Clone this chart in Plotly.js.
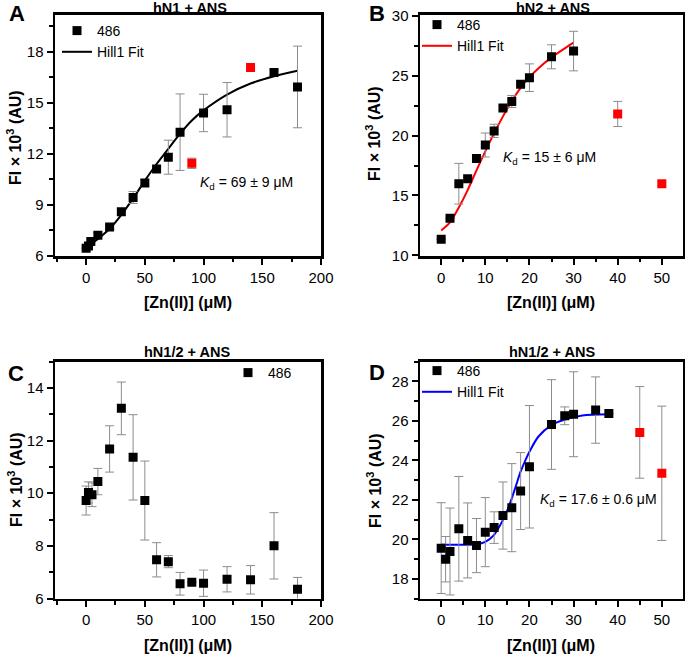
<!DOCTYPE html>
<html>
<head>
<meta charset="utf-8">
<script src="https://cdn.plot.ly/plotly-3.0.1.min.js"></script>
<style>html,body{margin:0;padding:0;background:#fff;}#plot{width:685px;height:655px;}</style>
</head>
<body>
<div id="plot"></div>
<script>
// ---------- Panel A: hN1 + ANS ----------
const A_x = [0, 2, 4, 10, 20, 30, 40, 50, 60, 70, 80, 100, 120, 160, 180];
const A_y = [6.45, 6.59, 6.85, 7.22, 7.71, 8.6, 9.44, 10.29, 11.12, 11.81, 13.28, 14.41, 14.6, 16.79, 15.94];
const A_err = [0, 0, 0.1, 0.15, 0.15, 0.2, 0.35, 0.2, 0.15, 1.0, 2.25, 1.1, 1.6, 0.15, 2.4];
const A_red_x = [90, 140];
const A_red_y = [11.45, 17.08];
const A_red_err = [0.3, 0];
const A_fit_x = [0, 10, 20, 30, 40, 50, 60, 70, 80, 90, 100, 120, 140, 160, 180];
const A_fit_y = [6.49, 7.0, 7.6, 8.42, 9.39, 10.43, 11.41, 12.3, 13.19, 13.97, 14.56, 15.49, 16.14, 16.57, 16.89];

// ---------- Panel B: hN2 + ANS ----------
const B_x = [0, 2, 4, 6, 8, 10, 12, 14, 16, 18, 20, 25, 30];
const B_y = [11.35, 13.09, 15.98, 16.4, 18.09, 19.21, 20.39, 22.3, 22.84, 24.27, 24.83, 26.57, 27.05];
const B_err = [0, 0, 1.7, 0.2, 0.2, 1.0, 0.55, 0.15, 0.5, 0.15, 1.15, 1.0, 1.65];
const B_red_x = [40, 50];
const B_red_y = [21.8, 15.98];
const B_red_err = [1.05, 0.15];
const B_fit_x = [0, 2, 4, 6, 8, 10, 12, 14, 16, 18, 20, 22, 25, 28, 30];
const B_fit_y = [12.08, 12.75, 14.0, 15.45, 17.1, 18.68, 20.2, 21.6, 22.88, 23.97, 24.87, 25.6, 26.52, 27.28, 27.75];

// ---------- Panel C: hN1/2 + ANS ----------
const C_x = [0, 2, 5, 10, 20, 30, 40, 50, 60, 70, 80, 90, 100, 120, 140, 160, 180];
const C_y = [9.72, 10.03, 9.94, 10.44, 11.68, 13.22, 11.36, 9.72, 7.47, 7.40, 6.56, 6.62, 6.58, 6.73, 6.71, 8.0, 6.35];
const C_err = [0.55, 0.4, 0.45, 0.5, 0.88, 1.0, 1.62, 1.5, 0.65, 0.23, 0.43, 0, 0.5, 0.48, 0.54, 1.26, 0.45];

// ---------- Panel D: hN1/2 + ANS ----------
const D_x = [0, 1, 2, 4, 6, 8, 10, 12, 14, 16, 18, 20, 25, 28, 30, 35, 38];
const D_y = [19.55, 18.99, 19.38, 20.53, 19.94, 19.68, 20.36, 20.59, 21.2, 21.6, 22.44, 23.67, 25.81, 26.25, 26.33, 26.54, 26.37];
const D_err = [2.3, 1.15, 2.2, 2.65, 1.9, 1.37, 1.75, 0.8, 1.7, 2.23, 1.95, 3.1, 2.27, 0.45, 2.15, 1.68, 0];
const D_red_x = [45, 50];
const D_red_y = [25.41, 23.34];
const D_red_err = [2.32, 3.4];
const D_fit_x = [0, 5, 8, 10, 12, 14, 15, 16, 17, 18, 19, 20, 22, 25, 28, 32, 38];
const D_fit_y = [19.72, 19.72, 19.75, 19.87, 20.22, 20.98, 21.48, 22.07, 22.75, 23.42, 23.96, 24.43, 25.19, 25.78, 26.06, 26.27, 26.33];

// ---------- Text ----------
const titles = ['hN1 + ANS', 'hN2 + ANS', 'hN1/2 + ANS', 'hN1/2 + ANS'];
const letters = ['A', 'B', 'C', 'D'];
const xTitle = '[Zn(II)] (μM)';
const yTitle = 'FI × 10<sup>3</sup> (AU)';
const kdTexts = ['<i>K</i><sub>d</sub> = 69 ± 9 μM', '<i>K</i><sub>d</sub> = 15 ± 6 μM', '<i>K</i><sub>d</sub> = 17.6 ± 0.6 μM'];
const seriesName = '486';
const fitName = 'Hill1 Fit';

// ---------- helpers ----------
const W = 685, H = 655;
const px = v => v / W;
const py = v => 1 - v / H;
const FONT = 'Liberation Sans, Arial, sans-serif';
const GRAY = '#8c8c8c';

function pts(x, y, err, xa, ya, color, name, legend, show) {
  return {
    type: 'scatter', mode: 'markers', x: x, y: y, xaxis: xa, yaxis: ya,
    name: name, legend: legend, showlegend: show,
    marker: {symbol: 'square', size: 9, color: color},
    error_y: {type: 'data', array: err, visible: true, color: GRAY, thickness: 1, width: 4.5}
  };
}
function fit(x, y, xa, ya, color, legend) {
  return {
    type: 'scatter', mode: 'lines', x: x, y: y, xaxis: xa, yaxis: ya,
    name: fitName, legend: legend, showlegend: true,
    line: {color: color, width: 2, shape: 'spline', smoothing: 0.8}
  };
}

const traces = [
  fit(A_fit_x, A_fit_y, 'x', 'y', '#000000', 'legend'),
  pts(A_x, A_y, A_err, 'x', 'y', '#000000', seriesName, 'legend', true),
  pts(A_red_x, A_red_y, A_red_err, 'x', 'y', '#ff0000', seriesName, 'legend', false),
  fit(B_fit_x, B_fit_y, 'x2', 'y2', '#ff0000', 'legend2'),
  pts(B_x, B_y, B_err, 'x2', 'y2', '#000000', seriesName, 'legend2', true),
  pts(B_red_x, B_red_y, B_red_err, 'x2', 'y2', '#ff0000', seriesName, 'legend2', false),
  pts(C_x, C_y, C_err, 'x3', 'y3', '#000000', seriesName, 'legend3', true),
  fit(D_fit_x, D_fit_y, 'x4', 'y4', '#0000ff', 'legend4'),
  pts(D_x, D_y, D_err, 'x4', 'y4', '#000000', seriesName, 'legend4', true),
  pts(D_red_x, D_red_y, D_red_err, 'x4', 'y4', '#ff0000', seriesName, 'legend4', false)
];

function ax(domain, range, dtick, minorDtick, anchor) {
  return {
    domain: domain, range: range, anchor: anchor, dtick: dtick,
    showline: true, linewidth: 2.5, linecolor: '#000', mirror: true,
    ticks: 'outside', ticklen: 6, tickwidth: 2, tickcolor: '#000',
    showgrid: false, zeroline: false, fixedrange: true,
    tickfont: {size: 15, family: FONT, color: '#000'},
    minor: {ticks: 'outside', ticklen: 3.5, tickwidth: 2, tickcolor: '#000', dtick: minorDtick, showgrid: false}
  };
}

const dAx = [px(55), px(321)], dBx = [px(420), px(683)];
const dTop = [py(256), py(14.5)], dBot = [py(598.5), py(361.5)];

function legendCfg(xp, yp) {
  return {x: px(xp), y: py(yp), xanchor: 'left', yanchor: 'top', bgcolor: 'rgba(0,0,0,0)',
          font: {size: 14, family: FONT, color: '#000'}, tracegroupgap: 0, traceorder: 'reversed', itemwidth: 30};
}

const ann = [];
function txt(t, x, y, opts) {
  ann.push(Object.assign({text: t, x: px(x), y: py(y), xref: 'paper', yref: 'paper', showarrow: false,
    xanchor: 'center', yanchor: 'middle', font: {size: 14, family: FONT, color: '#000'}}, opts || {}));
}
const titleFont = {size: 14.5, family: FONT, color: '#000'};
const axFont = {size: 16, family: FONT, color: '#000'};
const letterFont = {size: 22, family: FONT, color: '#000'};
// panel titles
txt('<b>' + titles[0] + '</b>', 190, 8, {font: titleFont});
txt('<b>' + titles[1] + '</b>', 553, 8, {font: titleFont});
txt('<b>' + titles[2] + '</b>', 187, 352, {font: titleFont});
txt('<b>' + titles[3] + '</b>', 552, 352, {font: titleFont});
// letters
txt('<b>' + letters[0] + '</b>', 17, 13, {font: letterFont});
txt('<b>' + letters[1] + '</b>', 377, 14, {font: letterFont});
txt('<b>' + letters[2] + '</b>', 16, 373, {font: letterFont});
txt('<b>' + letters[3] + '</b>', 377, 372, {font: letterFont});
// x titles
txt('<b>' + xTitle + '</b>', 188, 302, {font: axFont});
txt('<b>' + xTitle + '</b>', 551, 302, {font: axFont});
txt('<b>' + xTitle + '</b>', 188, 645, {font: axFont});
txt('<b>' + xTitle + '</b>', 551, 645, {font: axFont});
// y titles
txt('<b>' + yTitle + '</b>', 14, 138, {textangle: -90, font: axFont});
txt('<b>' + yTitle + '</b>', 373, 134, {textangle: -90, font: axFont});
txt('<b>' + yTitle + '</b>', 15, 480, {textangle: -90, font: axFont});
txt('<b>' + yTitle + '</b>', 374, 480, {textangle: -90, font: axFont});
// Kd
txt(kdTexts[0], 246, 183);
txt(kdTexts[1], 549, 158);
txt(kdTexts[2], 598, 500);

const layout = {
  width: W, height: H, margin: {l: 0, r: 0, t: 0, b: 0},
  paper_bgcolor: '#fff', plot_bgcolor: '#fff',
  font: {family: FONT, color: '#000'},
  xaxis: ax(dAx, [-26.5, 200], 50, 25, 'y'),
  yaxis: ax(dTop, [6, 20.2], 3, 1.5, 'x'),
  xaxis2: ax(dBx, [-4.8, 54.8], 10, 5, 'y2'),
  yaxis2: ax(dTop, [9.95, 30.1], 5, 2.5, 'x2'),
  xaxis3: ax(dAx, [-26.5, 200], 50, 25, 'y3'),
  yaxis3: ax(dBot, [6, 15], 2, 1, 'x3'),
  xaxis4: ax(dBx, [-4.8, 54.8], 10, 5, 'y4'),
  yaxis4: ax(dBot, [17, 29], 2, 1, 'x4'),
  legend: legendCfg(57, 15),
  legend2: legendCfg(417, 9),
  legend3: legendCfg(228, 357),
  legend4: legendCfg(417, 355),
  annotations: ann,
  showlegend: true
};

Plotly.newPlot('plot', traces, layout, {staticPlot: true, displayModeBar: false});
</script>
</body>
</html>
